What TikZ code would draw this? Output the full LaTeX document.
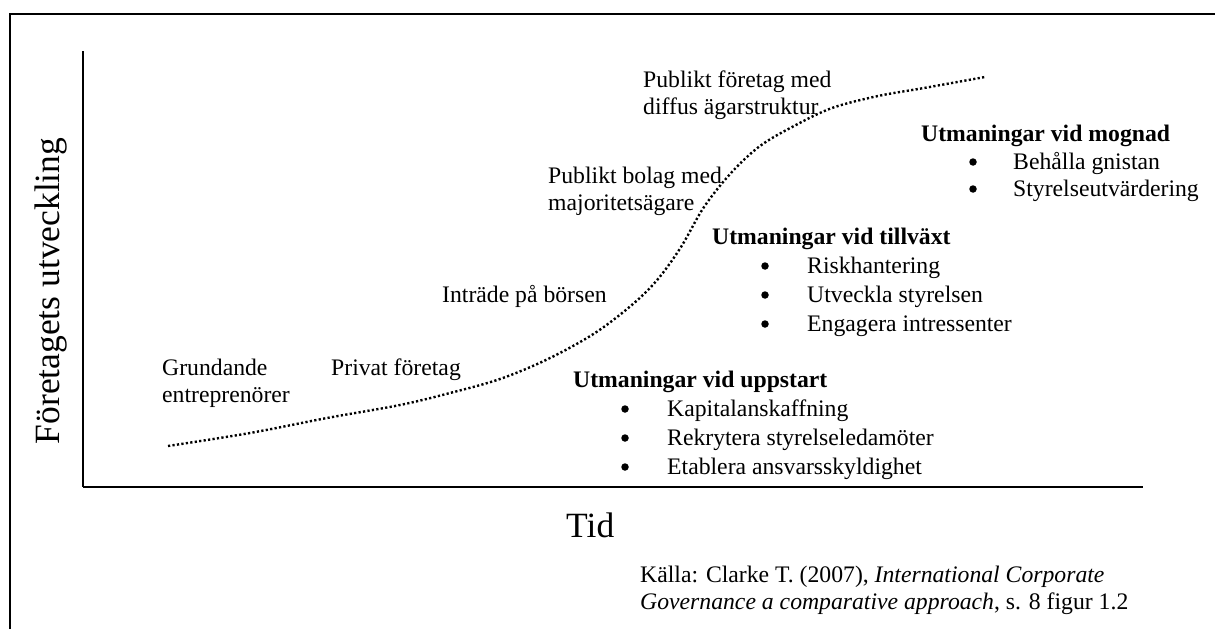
\documentclass[tikz,border=0pt]{standalone}
\usepackage{fontspec}
\setmainfont{Liberation Serif}
\begin{document}
\begin{tikzpicture}[x=1pt,y=-1pt,
  lbl/.style={anchor=base west,inner sep=0pt,font=\fontsize{23.7}{27}\selectfont},
  head/.style={anchor=base west,inner sep=0pt,font=\fontsize{23.7}{27}\selectfont\bfseries},
  bul/.style={circle,fill=black,inner sep=0pt,minimum size=7.5pt},
  big/.style={inner sep=0pt,font=\fontsize{35.5}{40}\selectfont},
  frameline/.style={line width=2pt},
  growth/.style={line width=2.4pt,dash pattern=on 2.2pt off 2.3pt}]
\useasboundingbox (0,0) rectangle (1215,629);
% frame
\coordinate (fTL) at (10,14);
\coordinate (fTR) at (1215,14);
\coordinate (fBL) at (10,629);
\draw[frameline] (fBL) -- (fTL) -- (fTR);
% axes
\coordinate (yTop) at (83,51);
\coordinate (orig) at (83,487);
\coordinate (xEnd) at (1143,487);
\draw[line width=1.6pt] (yTop) -- (orig);
\draw[line width=2.6pt] (orig) -- (xEnd);
% axis labels
\node[big,rotate=90,anchor=base] (ylab) at (59,291) {Företagets utveckling};
\node[big,anchor=base west] (xlab) at (566,537) {Tid};
% curve
\draw[growth] plot[smooth,tension=0.55] coordinates {(168,446) (250,433) (327,418) (400,405) (450,393) (500,379) (548,359) (595,333) (633,304) (658,279) (681,247) (704,207) (731,173) (760,146) (794,126) (832,108) (878,96) (924,88) (985,77)};
% stage labels
\node[lbl] (g1) at (162,375) {Grundande};
\node[lbl] (g2) at (162,402) {entreprenörer};
\node[lbl] (pf) at (331,375) {Privat företag};
\node[lbl] (ib) at (442,302) {Inträde på börsen};
\node[lbl] (pb1) at (548,183) {Publikt bolag med};
\node[lbl] (pb2) at (548,210) {majoritetsägare};
\node[lbl] (pd1) at (643,87) {Publikt företag med};
\node[lbl] (pd2) at (643,114) {diffus ägarstruktur};
% mognad
\node[head] (hm) at (921,141) {Utmaningar vid mognad};
\node[bul] (bm1) at (973,162) {};
\node[lbl] (m1) at (1013,169) {Behålla gnistan};
\node[bul] (bm2) at (973,189) {};
\node[lbl] (m2) at (1013,196) {Styrelseutvärdering};
% tillväxt
\node[head] (ht) at (712,244) {Utmaningar vid tillväxt};
\node[bul] (bt1) at (765,266) {};
\node[lbl] (t1) at (807,273) {Riskhantering};
\node[bul] (bt2) at (765,295) {};
\node[lbl] (t2) at (807,302) {Utveckla styrelsen};
\node[bul] (bt3) at (765,324) {};
\node[lbl] (t3) at (807,331) {Engagera intressenter};
% uppstart
\node[head] (hu) at (573,387) {Utmaningar vid uppstart};
\node[bul] (bu1) at (625,409) {};
\node[lbl] (u1) at (667,416) {Kapitalanskaffning};
\node[bul] (bu2) at (625,438) {};
\node[lbl] (u2) at (667,445) {Rekrytera styrelseledamöter};
\node[bul] (bu3) at (625,467) {};
\node[lbl] (u3) at (667,474) {Etablera ansvarsskyldighet};
% source
\node[lbl] (s1) at (640,582) {Källa: Clarke T. (2007), \textit{International Corporate}};
\node[lbl] (s2) at (640,609) {\textit{Governance a comparative approach}, s. 8 figur 1.2};
\end{tikzpicture}
\end{document}
